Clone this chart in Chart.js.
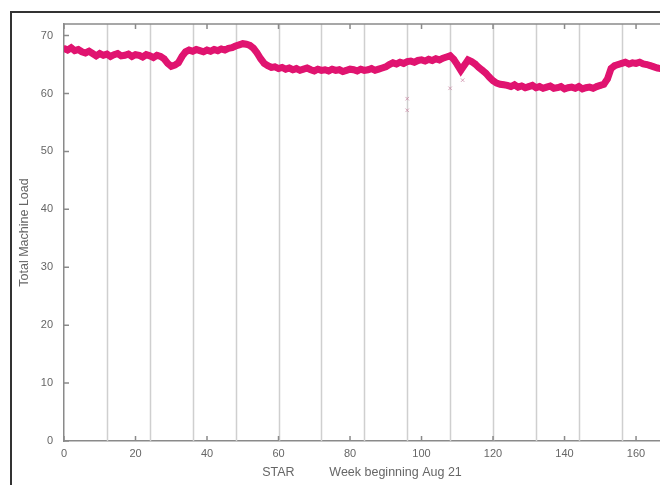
<!DOCTYPE html>
<html>
<head>
<meta charset="utf-8">
<script src="https://cdn.jsdelivr.net/npm/chart.js@4.4.0/dist/chart.umd.min.js"></script>
<style>
  html, body { margin: 0; padding: 0; background: #fff; }
  #wrap { width: 660px; height: 485px; position: relative; }
</style>
</head>
<body>
<div id="wrap"><canvas id="myChart"></canvas></div>
<script>
// tai may STAR, tuan bat dau Aug 21 (moi gia tri = 1 gio)
const load = [
  67.8, 67.5, 67.9, 67.4, 67.6, 67.2, 67.0, 67.3, 66.9,
  66.5, 66.9, 66.6, 66.8, 66.4, 66.7, 66.9, 66.5, 66.6, 66.8, 66.4, 66.7,
  66.6, 66.3, 66.7, 66.5, 66.2, 66.6, 66.4, 66.0,
  65.2, 64.7, 64.9, 65.3, 66.4,
  67.2, 67.5, 67.3, 67.6, 67.4, 67.2, 67.5, 67.3, 67.6, 67.4, 67.7, 67.5, 67.8, 67.9,
  68.2, 68.4, 68.6, 68.5, 68.3,
  67.8, 67.0, 66.0, 65.2, 64.8, 64.5,
  64.6, 64.3, 64.5, 64.2, 64.4, 64.1, 64.3, 64.0, 64.2, 64.4, 64.1, 63.9, 64.2, 64.0, 64.1, 63.9, 64.2, 64.0, 64.1, 63.8, 64.0, 64.2,
  64.1, 63.9, 64.2, 64.0, 64.1, 64.3, 64.0, 64.2, 64.4, 64.6,
  65.0, 65.3, 65.1, 65.4, 65.2, 65.5, 65.6, 65.4, 65.7,
  65.8, 65.6, 65.9, 65.7, 66.0, 65.8, 66.1, 66.3, 66.5,
  65.9, 65.0, 64.0, 64.9, 65.8,
  65.5, 65.1, 64.5, 64.0, 63.5,
  62.8, 62.2, 61.8, 61.6, 61.5,
  61.4, 61.2, 61.5, 61.1, 61.3, 61.0, 61.2, 61.4, 61.0, 61.2, 60.9, 61.1, 61.3, 60.9,
  61.0, 61.2, 60.8, 61.0, 61.1, 60.9, 61.2, 60.8, 61.0, 61.1, 60.9, 61.2, 61.4, 61.6,
  62.5, 64.3, 64.8, 65.0,
  65.2, 65.4, 65.1, 65.3, 65.2, 65.4, 65.1, 65.0, 64.8, 64.6, 64.4, 64.3
];
const hours = load.map((v, i) => i);

// may diem le (mau nhat)
const outX = [96, 96, 108, 111.5];
const outY = [59.1, 57.1, 60.9, 62.3];

const xTicks = [0, 20, 40, 60, 80, 100, 120, 140, 160];
const yTicks = [0, 10, 20, 30, 40, 50, 60, 70];
const dayLines = [12, 24, 36, 48, 60, 72, 84, 96, 108, 120, 132, 144, 156];

const axisColor = '#8a8a8a';
const textColor = '#666';
const fontTick = { family: 'Liberation Sans', size: 11 };
const fontTitle = { family: 'Liberation Sans', size: 12.5 };

// khung, duong chia ngay, vach chia huong vao trong
const framePlugin = {
  id: 'frame',
  beforeDatasetsDraw(chart) {
    const { ctx, chartArea: a, scales: { x } } = chart;
    ctx.save();
    ctx.strokeStyle = '#cfcfcf';
    ctx.lineWidth = 1.5;
    dayLines.forEach(d => {
      const px = Math.round(x.getPixelForValue(d)) + 0.5;
      ctx.beginPath();
      ctx.moveTo(px, a.top);
      ctx.lineTo(px, a.bottom);
      ctx.stroke();
    });
    ctx.restore();
  },
  afterDraw(chart) {
    const { ctx, chartArea: a, scales: { x, y } } = chart;
    ctx.save();
    ctx.strokeStyle = '#333';
    ctx.lineWidth = 2;
    ctx.beginPath();
    ctx.moveTo(11, 485);
    ctx.lineTo(11, 12);
    ctx.lineTo(660, 12);
    ctx.stroke();

    ctx.strokeStyle = axisColor;
    ctx.lineWidth = 1.5;
    ctx.beginPath();
    ctx.moveTo(a.left, a.top);
    ctx.lineTo(a.right, a.top);
    xTicks.forEach(v => {
      const px = x.getPixelForValue(v);
      ctx.moveTo(px, a.bottom);
      ctx.lineTo(px, a.bottom - 5);
      ctx.moveTo(px, a.top);
      ctx.lineTo(px, a.top + 5);
    });
    yTicks.forEach(v => {
      const py = y.getPixelForValue(v);
      ctx.moveTo(a.left, py);
      ctx.lineTo(a.left + 5, py);
    });
    ctx.stroke();
    ctx.restore();
  }
};

const data = {
  datasets: [{
    label: 'Total Machine Load',
    type: 'line',
    data: hours.map((h, i) => ({ x: h, y: load[i] })),
    borderColor: 'rgb(224, 20, 112)',
    backgroundColor: 'rgb(224, 20, 112)',
    borderWidth: 7,
    pointRadius: 3,
    pointBorderWidth: 0,
    tension: 0
  }, {
    label: 'outliers',
    type: 'scatter',
    data: outX.map((h, i) => ({ x: h, y: outY[i] })),
    borderColor: 'rgba(200, 130, 160, 0.7)',
    backgroundColor: 'rgba(200, 130, 160, 0.7)',
    pointStyle: 'crossRot',
    pointRadius: 2.5,
    borderWidth: 1
  }]
};

const config = {
  type: 'line',
  data: data,
  options: {
    responsive: true,
    maintainAspectRatio: false,
    animation: false,
    layout: { autoPadding: false, padding: { top: 24, right: 0, bottom: 0, left: 0 } },
    plugins: {
      legend: { display: false },
      tooltip: { enabled: false }
    },
    scales: {
      x: {
        type: 'linear',
        min: 0,
        max: 166.7,
        afterBuildTicks: s => { s.ticks = xTicks.map(v => ({ value: v })); },
        afterFit: s => { s.height = 44; s.paddingLeft = 0; s.paddingRight = 0; },
        grid: { display: false, drawTicks: false },
        border: { display: true, color: axisColor, width: 1.5 },
        ticks: { color: textColor, font: fontTick, padding: 6, maxRotation: 0 },
        title: {
          display: true,
          text: 'STAR          Week beginning Aug 21',
          color: textColor,
          font: fontTitle,
          padding: { top: 0, bottom: 4.5 }
        }
      },
      y: {
        min: 0,
        max: 72,
        afterBuildTicks: s => { s.ticks = yTicks.map(v => ({ value: v })); },
        afterFit: s => { s.width = 64; },
        grid: { display: false, drawTicks: false },
        border: { display: true, color: axisColor, width: 1.5 },
        ticks: { color: textColor, font: fontTick, padding: 11 },
        title: {
          display: true,
          text: 'Total Machine Load',
          color: textColor,
          font: fontTitle,
          padding: { top: 17.5, bottom: 0 }
        }
      }
    }
  },
  plugins: [framePlugin]
};

const ctx = document.getElementById('myChart').getContext('2d');
let myChart = new Chart(ctx, config);
</script>
</body>
</html>
